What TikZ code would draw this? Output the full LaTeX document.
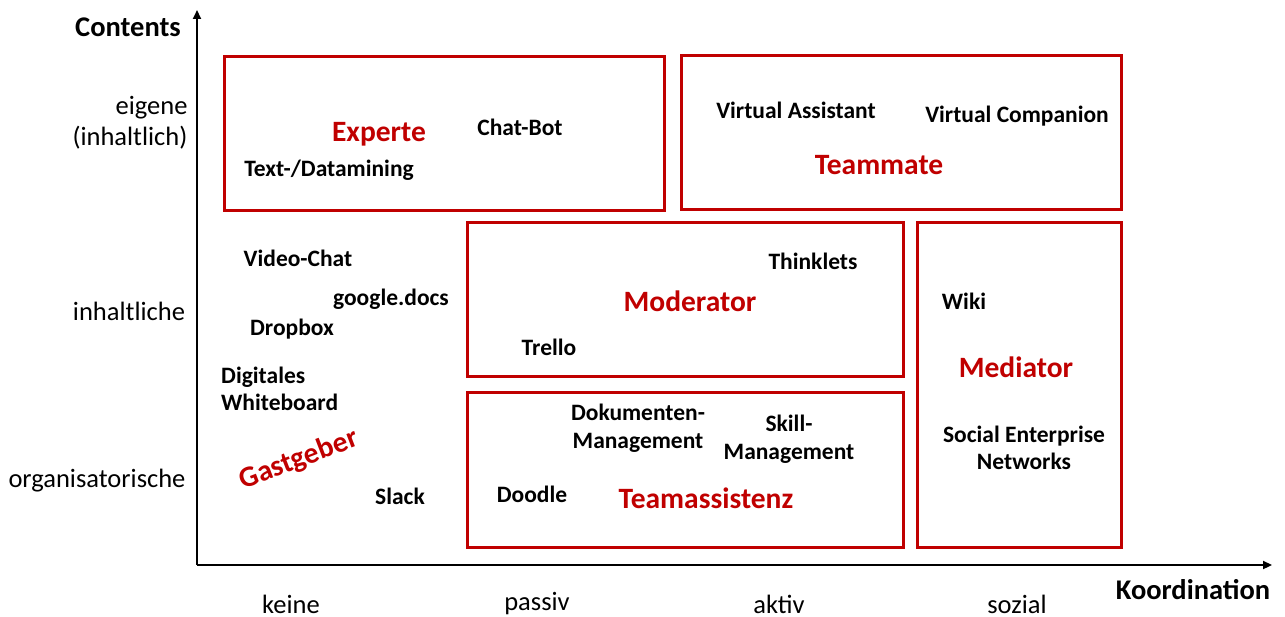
\documentclass[tikz,border=0pt]{standalone}
\usepackage{fontspec}
\setmainfont{Carlito}
\usetikzlibrary{arrows.meta}
\definecolor{dred}{RGB}{192,0,0}
\begin{document}
\begin{tikzpicture}[x=1pt,y=-1pt,
  roleBox/.style={draw=dred,line width=3pt},
  item/.style={font=\fontsize{23.5}{27.5}\selectfont\bfseries,align=center,inner sep=0pt},
  role/.style={font=\fontsize{29.5}{34}\selectfont\bfseries,text=dred,inner sep=0pt},
  axlab/.style={font=\fontsize{26.5}{31}\selectfont,align=right,inner sep=0pt},
  xlab/.style={font=\fontsize{26.5}{31}\selectfont,inner sep=0pt},
  axis/.style={line width=2.2pt,-{Triangle[length=9pt,width=8pt]}}]
\useasboundingbox (0,0) rectangle (1285,617);
% axes
\coordinate (O) at (197,565);
\coordinate (Ytop) at (197,10);
\coordinate (Xend) at (1272,565);
\draw[axis] (O) -- (Ytop);
\draw[axis] (O) -- (Xend);
\node[font=\fontsize{28.5}{32}\selectfont\bfseries,inner sep=0pt] (contents) at (128,27) {Contents};
\node[font=\fontsize{28.5}{32}\selectfont\bfseries,inner sep=0pt] (koord) at (1193,590) {Koordination};
\node[axlab] (eig) at (130,123) {eigene\\(inhaltlich)};
\node[xlab] (inh) at (129,311) {inhaltliche};
\node[xlab] (org) at (97,481) {organisatorische};
\node[xlab] (keine) at (291,604) {keine};
\node[xlab] (passiv) at (537,604) {passiv};
\node[xlab] (aktiv) at (779,604) {aktiv};
\node[xlab] (sozial) at (1017,604) {sozial};
% boxes
\draw[roleBox] (224,57) rectangle (664,211);
\draw[roleBox] (681,56) rectangle (1121,210);
\draw[roleBox] (467,223) rectangle (903,377);
\draw[roleBox] (467,393) rectangle (903,547);
\draw[roleBox] (917,223) rectangle (1121,547);
% Experte
\node[role] (experte) at (379,134) {Experte};
\node[item] (chatbot) at (520,127) {Chat-Bot};
\node[item] (textdm) at (329,170) {Text-/Datamining};
% Teammate
\node[item] (va) at (796,110) {Virtual Assistant};
\node[item] (vc) at (1017,116) {Virtual Companion};
\node[role] (teammate) at (879,165) {Teammate};
% Gastgeber area
\node[item] (video) at (298,258) {Video-Chat};
\node[item] (gdocs) at (391,299) {google.docs};
\node[item] (dropbox) at (292,329) {Dropbox};
\node[item,align=left,anchor=west] (dw) at (221,389) {Digitales\\Whiteboard};
\node[role,rotate=21] (gast) at (299,460) {Gastgeber};
\node[item] (slack) at (400,496) {Slack};
% Moderator
\node[role] (moderator) at (690,301) {Moderator};
\node[item] (think) at (813,261) {Thinklets};
\node[item] (trello) at (549,347) {Trello};
% Teamassistenz
\node[item] (dok) at (638,428) {Dokumenten-\\Management};
\node[item] (skill) at (789,439) {Skill-\\Management};
\node[item] (doodle) at (532,494) {Doodle};
\node[role] (tassist) at (706,498) {Teamassistenz};
% Mediator
\node[item] (wiki) at (964,301) {Wiki};
\node[role] (mediator) at (1016,367) {Mediator};
\node[item] (sen) at (1024,448) {Social Enterprise\\Networks};
\end{tikzpicture}
\end{document}
